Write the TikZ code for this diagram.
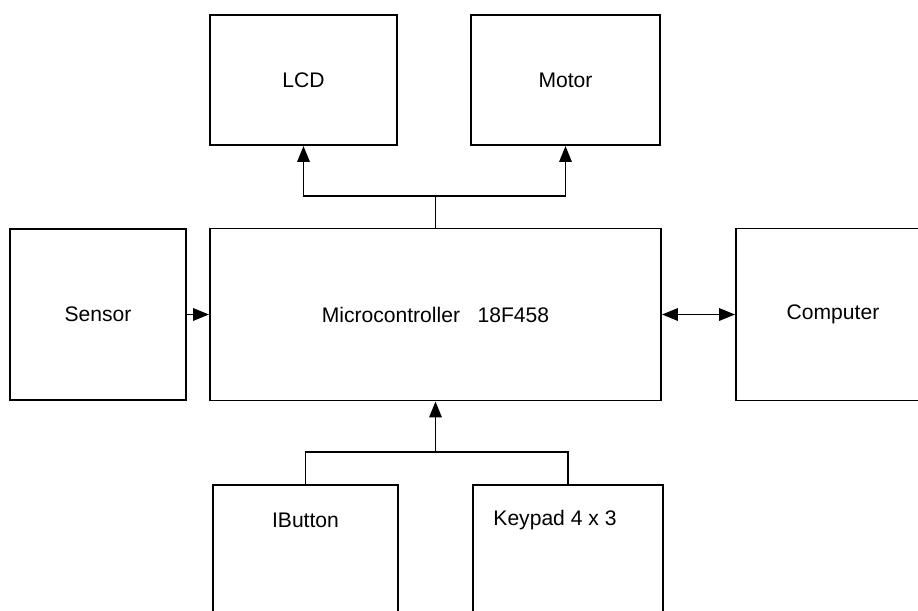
\documentclass[tikz,border=0pt]{standalone}
\usepackage{fontspec}
\setmainfont{Liberation Sans}
\usetikzlibrary{arrows.meta}

\begin{document}
\begin{tikzpicture}[
    font=\fontsize{12}{14}\selectfont,
    block/.style={draw, line width=1.1pt, inner sep=0pt},
    link/.style={line width=1.1pt},
    arr/.style={link, -{Triangle[length=9pt,width=7pt]}},
    darr/.style={link, {Triangle[length=9pt,width=7pt]}-{Triangle[length=9pt,width=7pt]}}
  ]
  % Page
  \useasboundingbox (0,0) rectangle (18.36,-12.2);
  \clip (0,0) rectangle (18.36,-12.2);
  \fill[white] (0,0) rectangle (18.36,-12.2);

  % Output blocks
  \node[block, minimum width=3.74cm, minimum height=2.6cm] (lcd) at (6.07,-1.6) {LCD};
  \node[block, minimum width=3.78cm, minimum height=2.6cm] (motor) at (11.31,-1.6) {Motor};

  % Middle row
  \node[block, minimum width=3.52cm, minimum height=3.42cm] (sensor) at (1.96,-6.29) {Sensor};
  \node[block, minimum width=9.02cm, minimum height=3.44cm] (mcu) at (8.71,-6.29)
    {Microcontroller~~~18F458};
  \node[block, minimum width=3.88cm, minimum height=3.44cm] (computer) at (16.66,-6.29) {Computer};

  % Input blocks (cut off at the bottom)
  \node[block, minimum width=3.7cm, minimum height=3.44cm] (ibutton) at (6.11,-11.42) {};
  \node[block, minimum width=3.8cm, minimum height=3.44cm] (keypad) at (11.36,-11.42) {};
  \node (ibuttontext) at (6.11,-10.4) {IButton};
  \node (keypadtext) at (11.1,-10.4) {Keypad 4 x 3};

  % Bus to the outputs
  \coordinate (split) at (8.71,-3.92);
  \draw[link] (mcu.north) -- (split);
  \draw[arr] (split) -| (lcd.south);
  \draw[arr] (split) -| (motor.south);

  % Bus from the inputs
  \coordinate (join) at (8.71,-9.04);
  \draw[arr] (join) -- (mcu.south);
  \draw[link] (join) -| (ibutton.north);
  \draw[link] (join) -| (keypad.north);

  % Side links
  \draw[arr] (sensor.east) -- (mcu.west);
  \draw[darr] (mcu.east) -- (computer.west);
\end{tikzpicture}
\end{document}
